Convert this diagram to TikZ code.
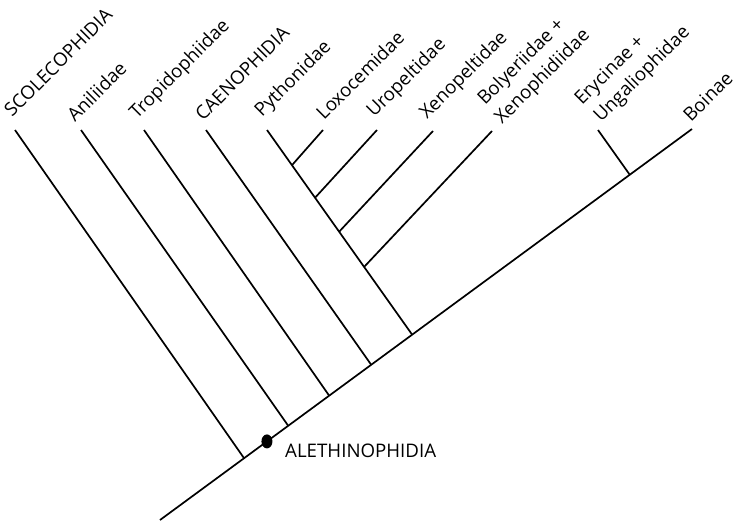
\documentclass[tikz,border=0pt]{standalone}
\usepackage{fontspec}
\setmainfont{Open Sans}
\usetikzlibrary{calc}
\tikzset{
  branch/.style={line width=1.7pt},
  taxon/.style={rotate=45,anchor=base west,inner sep=0pt,font=\fontsize{18.7}{22}\selectfont},
  clade/.style={anchor=base west,inner sep=0pt,font=\fontsize{18.7}{22}\selectfont}
}
\begin{document}
\begin{tikzpicture}[x=1pt,y=-1pt]
\useasboundingbox (0,0) rectangle (742,522);
% main axis
\coordinate (root) at (160,520);
\coordinate (tBoi) at (692,129);
\coordinate (jSco) at ($(root)!0.158!(tBoi)$);
\coordinate (jDot) at ($(root)!0.201!(tBoi)$);
\coordinate (jAni) at ($(root)!0.241!(tBoi)$);
\coordinate (jTro) at ($(root)!0.318!(tBoi)$);
\coordinate (jCae) at ($(root)!0.397!(tBoi)$);
\coordinate (jPyt) at ($(root)!0.474!(tBoi)$);
\coordinate (jEry) at ($(root)!0.883!(tBoi)$);
% tips
\coordinate (tSco) at (15,130);
\coordinate (tAni) at (81,130);
\coordinate (tTro) at (144,130);
\coordinate (tCae) at (206,130);
\coordinate (tPyt) at (267,130);
\coordinate (tLox) at (323,130);
\coordinate (tUro) at (377,130);
\coordinate (tXen) at (433,131);
\coordinate (tBol) at (492,131);
\coordinate (tEry) at (598,130);
% junctions on the Pythonidae branch
\coordinate (jLox) at ($(tPyt)!0.172!(jPyt)$);
\coordinate (jUro) at ($(tPyt)!0.331!(jPyt)$);
\coordinate (jXen) at ($(tPyt)!0.497!(jPyt)$);
\coordinate (jBol) at ($(tPyt)!0.669!(jPyt)$);

\draw[branch] (root) -- (tBoi);
\draw[branch] (tSco) -- (jSco);
\draw[branch] (tAni) -- (jAni);
\draw[branch] (tTro) -- (jTro);
\draw[branch] (tCae) -- (jCae);
\draw[branch] (tPyt) -- (jPyt);
\draw[branch] (tLox) -- (jLox);
\draw[branch] (tUro) -- (jUro);
\draw[branch] (tXen) -- (jXen);
\draw[branch] (tBol) -- (jBol);
\draw[branch] (tEry) -- (jEry);

\fill (jDot) ellipse [x radius=5.5, y radius=7];

% labels
\node[taxon] (lSco) at (12,118) {SCOLECOPHIDIA};
\node[taxon] (lAni) at (75,123) {Aniliidae};
\node[taxon] (lTro) at (137,120) {Tropidophiidae};
\node[taxon] (lCae) at (203,122) {CAENOPHIDIA};
\node[taxon] (lPyt) at (262,118) {Pythonidae};
\node[taxon] (lLox) at (324,121) {Loxocemidae};
\node[taxon] (lUro) at (374,118) {Uropeltidae};
\node[taxon] (lXen) at (427,120) {Xenopeltidae};
\node[taxon] (lBol) at (485,106) {Bolyeriidae +};
\node[taxon] (lXph) at (502,125) {Xenophidiidae};
\node[taxon] (lEry) at (582,106) {Erycinae +};
\node[taxon] (lUng) at (601,123) {Ungaliophidae};
\node[taxon] (lBoi) at (691,123) {Boinae};
\node[clade] (lAle) at (285,457) {ALETHINOPHIDIA};
\end{tikzpicture}
\end{document}
